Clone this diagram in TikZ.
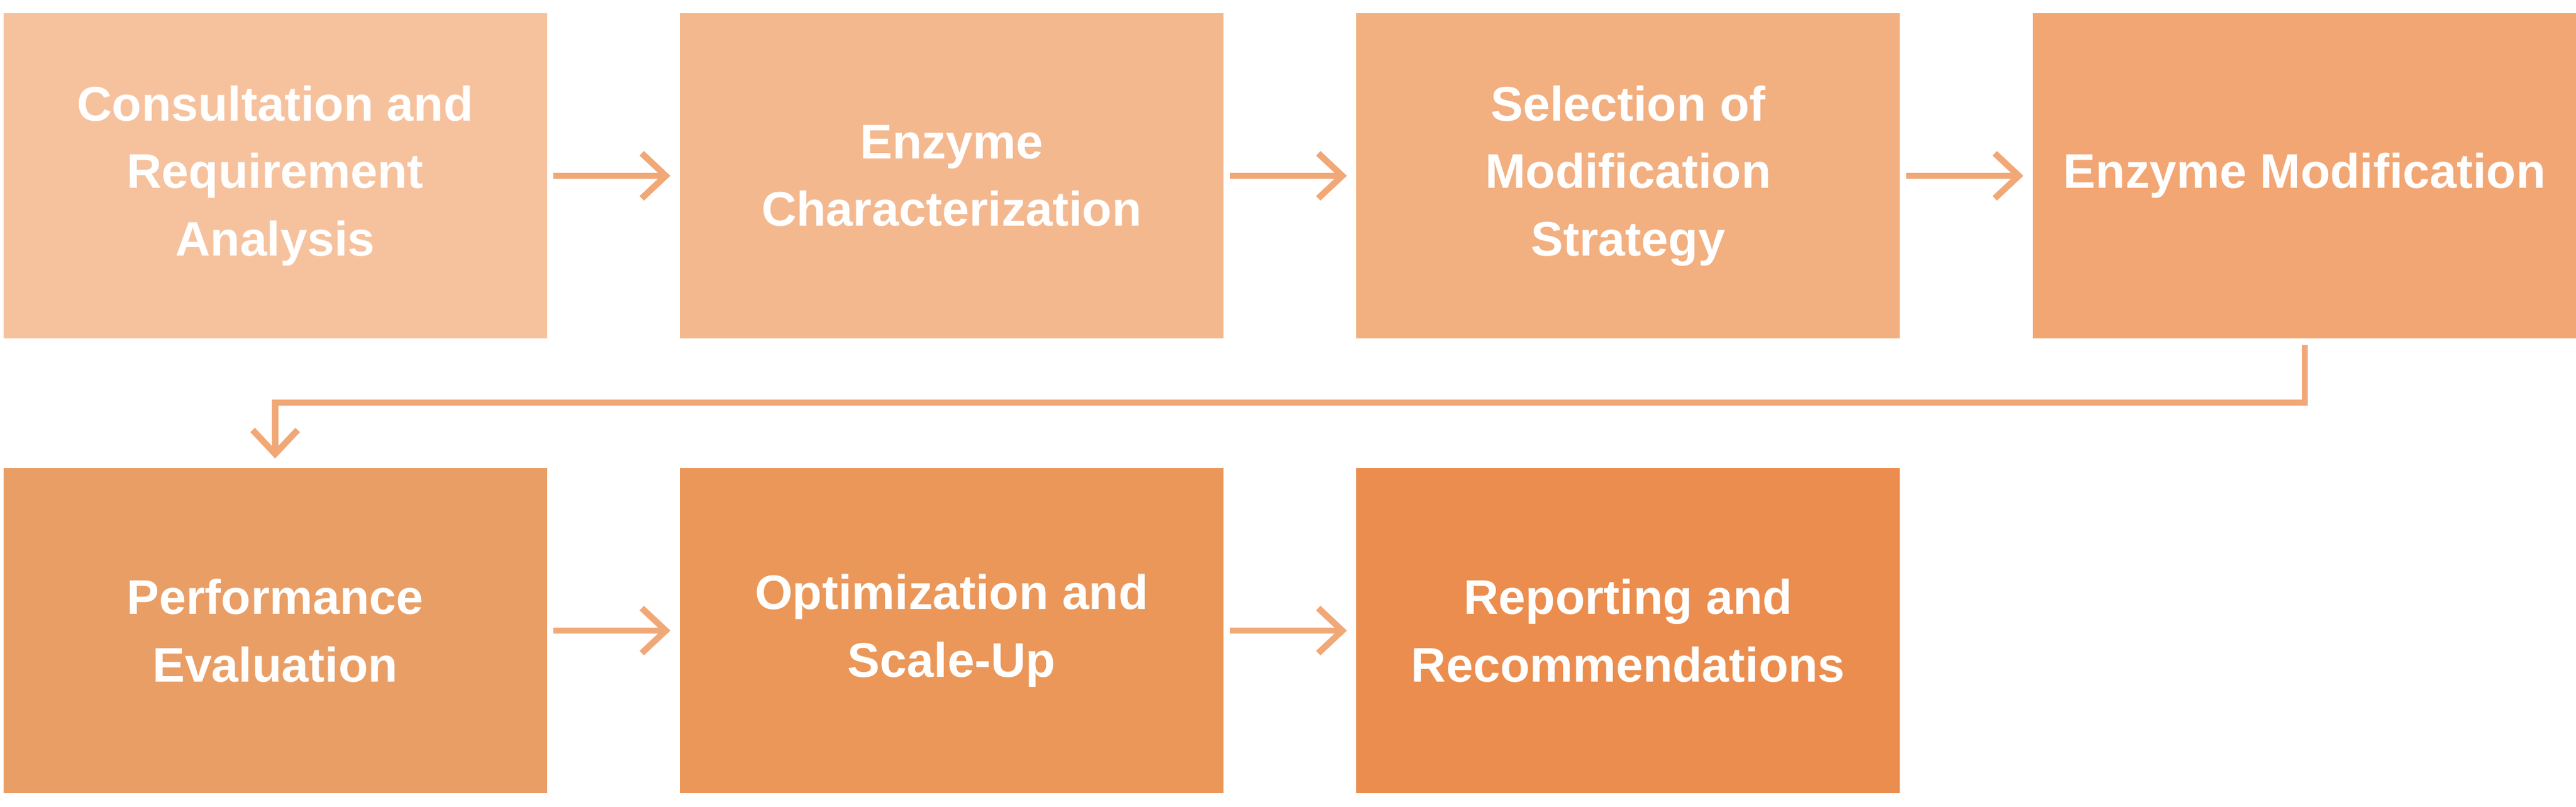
\documentclass[tikz,border=0pt]{standalone}
\usepackage{fontspec}
\setmainfont{Liberation Sans}
\usetikzlibrary{positioning,arrows.meta}
\definecolor{cA}{HTML}{F6C29E}
\definecolor{cB}{HTML}{F4B88F}
\definecolor{cC}{HTML}{F2AF80}
\definecolor{cD}{HTML}{F2A673}
\definecolor{cE}{HTML}{E99E66}
\definecolor{cF}{HTML}{EA9759}
\definecolor{cG}{HTML}{EB8D4E}
\definecolor{arr}{HTML}{F1A877}
\tikzset{
  stage/.style={minimum width=9.06cm, minimum height=5.42cm, inner sep=0pt, align=center, text=white, font=\fontsize{23}{32}\selectfont\bfseries},
  flow/.style={draw=arr, line width=3pt, shorten <=0.1cm, shorten >=0.15cm, -{Straight Barb[length=0.4cm, width=0.75cm, line width=3pt]}}
}
\begin{document}
\begin{tikzpicture}
\useasboundingbox (0,0) rectangle (42.93,13.44);
\node[stage, fill=cA] (consult) at (4.585,10.51) {Consultation and\\Requirement\\Analysis};
\node[stage, fill=cB, right=2.2cm of consult] (charact) {Enzyme\\Characterization};
\node[stage, fill=cC, right=2.2cm of charact] (select) {Selection of\\Modification\\Strategy};
\node[stage, fill=cD, right=2.2cm of select] (modif) {Enzyme Modification};
\node[stage, fill=cE] (perf) at (4.585,2.93) {Performance\\Evaluation};
\node[stage, fill=cF, right=2.2cm of perf] (optim) {Optimization and\\Scale-Up};
\node[stage, fill=cG, right=2.2cm of optim] (report) {Reporting and\\Recommendations};
\coordinate (bend) at (20,6.73);
\draw[flow] (consult) -- (charact);
\draw[flow] (charact) -- (select);
\draw[flow] (select) -- (modif);
\draw[flow] (modif.south) |- (bend) -| (perf.north);
\draw[flow] (perf) -- (optim);
\draw[flow] (optim) -- (report);
\end{tikzpicture}
\end{document}
